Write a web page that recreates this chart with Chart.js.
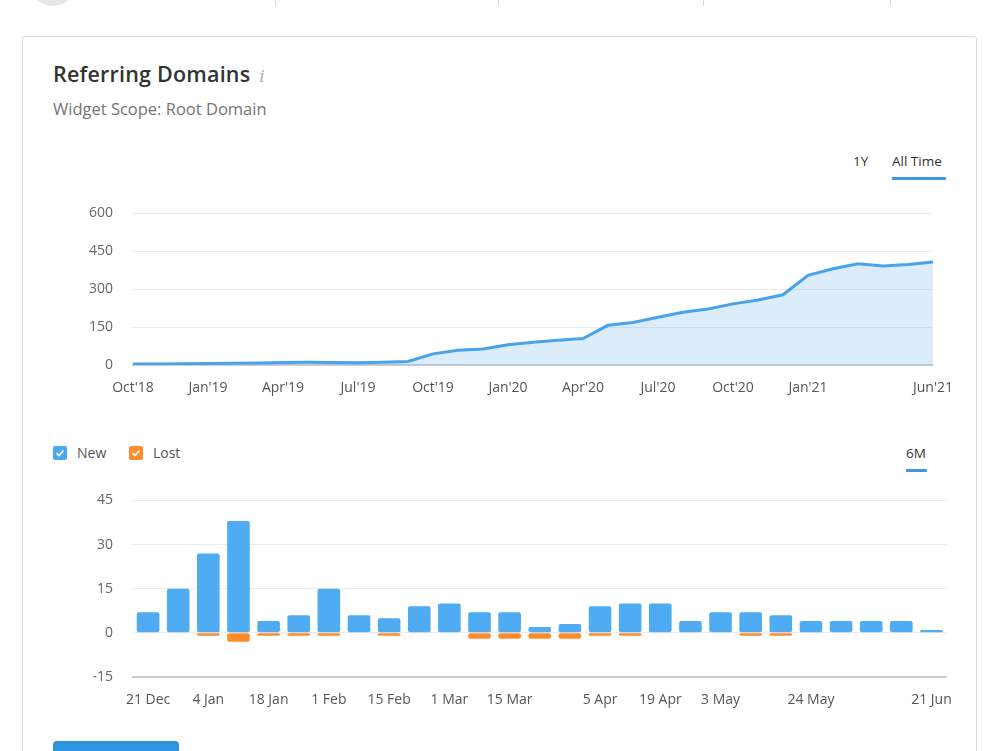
<!DOCTYPE html>
<html>
<head>
<meta charset="utf-8">
<script src="https://cdn.jsdelivr.net/npm/chart.js@4/dist/chart.umd.min.js"></script>
<style>
  body { margin: 0; width: 1000px; height: 751px; overflow: hidden; background: #fff; font-family: 'Open Sans', sans-serif; position: relative; }
  .topbar-circle { position: absolute; left: 30px; top: -40px; width: 46px; height: 46px; border-radius: 50%; background: #e4e6ea; }
  .sep { position: absolute; top: 0; width: 1px; height: 6px; background: #dcdcdc; }
  .card { position: absolute; left: 22px; top: 36px; width: 953px; height: 760px; border: 1px solid #dadada; border-radius: 3px; }
  .title { position: absolute; left: 53px; top: 59px; font-size: 21.5px; font-weight: 600; color: #333; letter-spacing: 0.2px; }
  .title i { font-family: 'DejaVu Serif', serif; font-weight: normal; color: #aaa; font-size: 17px; margin-left: 3px; }
  .sub { position: absolute; left: 53px; top: 97px; font-size: 16.5px; color: #757575; }
  .tab { position: absolute; font-size: 13.5px; color: #333; }
  .tab.on::after { content: ''; position: absolute; left: 0; right: 0; top: 25px; height: 3px; background: #3d96e0; border-radius: 1px; }
  .legend { position: absolute; top: 443px; left: 53px; font-size: 14px; color: #555; }
  .legend span { display: inline-flex; align-items: center; margin-right: 19px; }
  .legend svg { margin-right: 10px; }
  .btn { position: absolute; left: 53px; top: 741px; width: 126px; height: 20px; background: #2f94e0; border-radius: 4px; }
  #c1 { position: absolute; left: 60px; top: 185px; }
  #c2 { position: absolute; left: 60px; top: 472px; }
</style>
</head>
<body>
<div class="topbar-circle"></div>
<div class="sep" style="left:275px"></div>
<div class="sep" style="left:498px"></div>
<div class="sep" style="left:703px"></div>
<div class="sep" style="left:890px"></div>
<div class="card"></div>
<div class="title">Referring Domains <i>i</i></div>
<div class="sub">Widget Scope: Root Domain</div>
<div class="tab" style="left:853px;top:152px">1Y</div>
<div class="tab on" style="left:892px;top:152px;width:54px">All Time</div>
<div class="legend">
  <span><svg width="14" height="14" viewBox="0 0 14 14"><rect width="14" height="14" rx="2" fill="#4aa8f0"/><path d="M3.5 7.2 L6 9.5 L10.5 4.5" stroke="#fff" stroke-width="1.8" fill="none"/></svg>New</span>
  <span><svg width="14" height="14" viewBox="0 0 14 14"><rect width="14" height="14" rx="2" fill="#ff8c2a"/><path d="M3.5 7.2 L6 9.5 L10.5 4.5" stroke="#fff" stroke-width="1.8" fill="none"/></svg>Lost</span>
</div>
<div class="tab on" style="left:906px;top:444px;width:21px">6M</div>
<canvas id="c1" width="908" height="215"></canvas>
<canvas id="c2" width="907" height="240"></canvas>
<div class="btn"></div>
<script>
// monthly referring domains, Oct'18 .. Jun'21
const months = ["Oct'18","Nov'18","Dec'18","Jan'19","Feb'19","Mar'19","Apr'19","May'19","Jun'19","Jul'19","Aug'19","Sep'19",
  "Oct'19","Nov'19","Dec'19","Jan'20","Feb'20","Mar'20","Apr'20","May'20","Jun'20","Jul'20","Aug'20","Sep'20",
  "Oct'20","Nov'20","Dec'20","Jan'21","Feb'21","Mar'21","Apr'21","May'21","Jun'21"];
const domains = [4,4,5,6,7,8,10,11,10,9,11,14,
  44,58,63,80,90,98,105,157,168,189,209,222,
  242,257,278,355,381,401,392,398,408];
const monthTicks = ["Oct'18","Jan'19","Apr'19","Jul'19","Oct'19","Jan'20","Apr'20","Jul'20","Oct'20","Jan'21","Jun'21"];

// weekly new / lost
const weeks = ['21 Dec','28 Dec','4 Jan','11 Jan','18 Jan','25 Jan','1 Feb','8 Feb','15 Feb','22 Feb','1 Mar','8 Mar','15 Mar',
  '22 Mar','29 Mar','5 Apr','12 Apr','19 Apr','26 Apr','3 May','10 May','17 May','24 May','31 May','7 Jun','14 Jun','21 Jun'];
const newDomains  = [7,15,27,38,4,6,15,6,5,9,10,7,7,2,3,9,10,10,4,7,7,6,4,4,4,4,1];
const lostDomains = [0,0,-1,-3,-1,-1,-1,0,-1,0,0,-2,-2,-2,-2,-1,-1,0,0,0,-1,-1,0,0,0,0,0];
const weekTicks = ['21 Dec','4 Jan','18 Jan','1 Feb','15 Feb','1 Mar','15 Mar','5 Apr','19 Apr','3 May','24 May','21 Jun'];

Chart.defaults.font.family = "'Open Sans', sans-serif";
Chart.defaults.font.size = 14;
Chart.defaults.color = '#666';

new Chart(document.getElementById('c1'), {
  type: 'line',
  data: {
    labels: months,
    datasets: [{
      data: domains,
      borderColor: '#4aa3ea',
      backgroundColor: 'rgba(74,163,234,.2)',
      borderWidth: 3,
      fill: 'origin',
      pointRadius: 0,
      tension: 0
    }]
  },
  options: {
    responsive: false,
    animation: false,
    layout: { padding: { top: 7, right: 25 } },
    plugins: { legend: { display: false }, tooltip: { enabled: false } },
    scales: {
      x: {
        offset: false,
        grid: { display: false, drawTicks: false },
        border: { color: '#c9ccd1', width: 2 },
        ticks: { autoSkip: false, maxRotation: 0, padding: 15, color: '#555',
          callback: function(v) { const l = this.getLabelForValue(v); return monthTicks.includes(l) ? l : ''; } },
        afterFit: s => { s.height = 35; }
      },
      y: {
        min: 0, max: 600,
        grid: { color: '#e9eaec', drawTicks: false },
        border: { display: false },
        ticks: { stepSize: 150, padding: 20 },
        afterFit: s => { s.width = 73; }
      }
    }
  }
});

new Chart(document.getElementById('c2'), {
  type: 'bar',
  data: {
    labels: weeks,
    datasets: [
      { label: 'New', data: newDomains, backgroundColor: '#4fabf2', borderRadius: 2, borderSkipped: false },
      { label: 'Lost', data: lostDomains, backgroundColor: '#ff8c2a', borderRadius: 2, borderSkipped: false }
    ]
  },
  options: {
    responsive: false,
    animation: false,
    layout: { padding: { top: 11, right: 13 } },
    datasets: { bar: { barPercentage: 0.75, categoryPercentage: 1 } },
    plugins: { legend: { display: false }, tooltip: { enabled: false } },
    scales: {
      x: {
        stacked: true,
        grid: { display: false, drawTicks: false },
        border: { color: '#c9ccd1', width: 2 },
        ticks: { autoSkip: false, maxRotation: 0, padding: 15, color: '#555',
          callback: function(v) { const l = this.getLabelForValue(v); return weekTicks.includes(l) ? l : ''; } },
        afterFit: s => { s.height = 35; }
      },
      y: {
        stacked: true,
        min: -15, max: 45,
        grid: { color: '#e9eaec', drawTicks: false },
        border: { display: false },
        ticks: { stepSize: 15, padding: 20 },
        afterFit: s => { s.width = 73; }
      }
    }
  }
});
</script>
</body>
</html>
